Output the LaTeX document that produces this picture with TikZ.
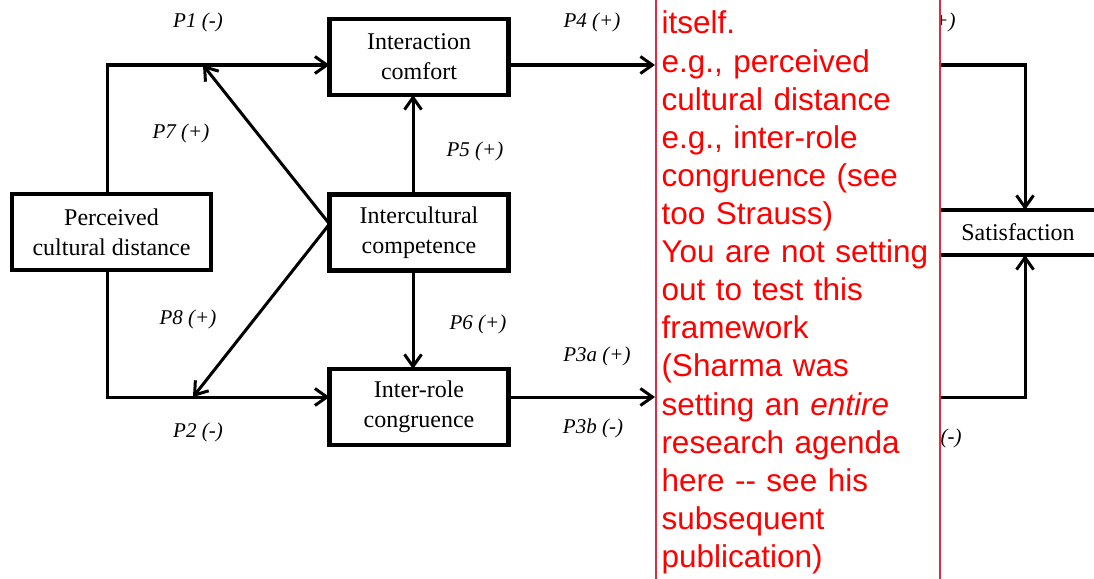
\documentclass[tikz,border=0pt]{standalone}
\usepackage{fontspec}
\setmainfont{Liberation Serif}
\newfontfamily\notefont{Liberation Sans}
\usetikzlibrary{arrows.meta}
\definecolor{noteborder}{RGB}{232,40,60}
\definecolor{notetextc}{RGB}{255,0,0}
\begin{document}
\begin{tikzpicture}[x=1pt,y=-1pt,line width=3pt,
  arr/.style={-{Straight Barb[length=12pt,width=17pt,line width=3pt]}},
  box/.style={draw,line width=4.5pt,align=center,inner sep=0pt,outer sep=0pt,
    font=\fontsize{24}{30}\selectfont},
  lbl/.style={font=\itshape\fontsize{21}{25}\selectfont,inner sep=0pt},
  notebox/.style={draw=noteborder,line width=2pt,fill=white,inner sep=0pt}]
\useasboundingbox (0,0) rectangle (1094,578);
\clip (0,0) rectangle (1094,578);

% boxes
\node[box,minimum width=199,minimum height=76] (pcd) at (111.5,232) {Perceived\\cultural distance};
\node[box,minimum width=179,minimum height=76] (ic) at (419,57) {Interaction\\comfort};
\node[box,minimum width=179,minimum height=76] (icc) at (419,232.5) {Intercultural\\competence};
\node[box,minimum width=179,minimum height=76] (irc) at (419,407) {Inter-role\\congruence};
\node[box,minimum width=200,minimum height=45] (sat) at (1018,232.5) {Satisfaction};

% helper coordinates
\coordinate (a1) at (107,65);
\coordinate (a2) at (107,397);
\coordinate (j1) at (203,65);
\coordinate (j2) at (193,397);
\coordinate (n1) at (655,65);
\coordinate (n2) at (655,397);
\coordinate (h1) at (930,65);
\coordinate (h2) at (930,397);

% connectors
\draw[arr] (pcd.north -| a1) -- (a1) -- (a1 -| ic.west);
\draw[arr] (pcd.south -| a2) -- (a2) -- (a2 -| irc.west);
\draw[arr] ([yshift=8.5pt]icc.west) -- (j1);
\draw[arr] ([yshift=8.5pt]icc.west) -- (j2);
\draw[arr] ([xshift=-6pt]icc.north) -- ([xshift=-6pt]ic.south);
\draw[arr] ([xshift=-6pt]icc.south) -- ([xshift=-6pt]irc.north);
\draw[arr] (ic.east |- a1) -- (n1);
\draw[arr] (irc.east |- a2) -- (n2);
\draw[arr] (h1) -| ([xshift=7pt]sat.north);
\draw[arr] (h2) -| ([xshift=7pt]sat.south);

% labels
\node[lbl] (p1) at (198,22) {P1 (-)};
\node[lbl] (p7) at (181,133) {P7 (+)};
\node[lbl] (p5) at (475,151) {P5 (+)};
\node[lbl] (p4) at (592,22) {P4 (+)};
\node[lbl] (p8) at (188,319) {P8 (+)};
\node[lbl] (p2) at (198,432) {P2 (-)};
\node[lbl] (p6) at (478,324) {P6 (+)};
\node[lbl] (p3a) at (597,356) {P3a (+)};
\node[lbl] (p3b) at (593,428) {P3b (-)};
\node[lbl,anchor=east] (px) at (957,22) {(+)};
\node[lbl] (py) at (951,438) {(-)};

% comment box
\node[notebox,minimum width=284,minimum height=700] (note) at (798,289) {};
\node[anchor=base west,inner sep=0pt,text width=278pt,align=left,text=notetextc,
  font=\notefont\fontsize{31.5}{38.1}\selectfont] (notetext) at (660,34)
  {itself.\\
   e.g., perceived\\
   cultural distance\\
   e.g., inter-role\\
   congruence (see\\
   too Strauss)\\
   You are not setting\\
   out to test this\\
   framework\\
   (Sharma was\\
   setting an \textit{entire}\\
   research agenda\\
   here -- see his\\
   subsequent\\
   publication)};
\end{tikzpicture}
\end{document}
